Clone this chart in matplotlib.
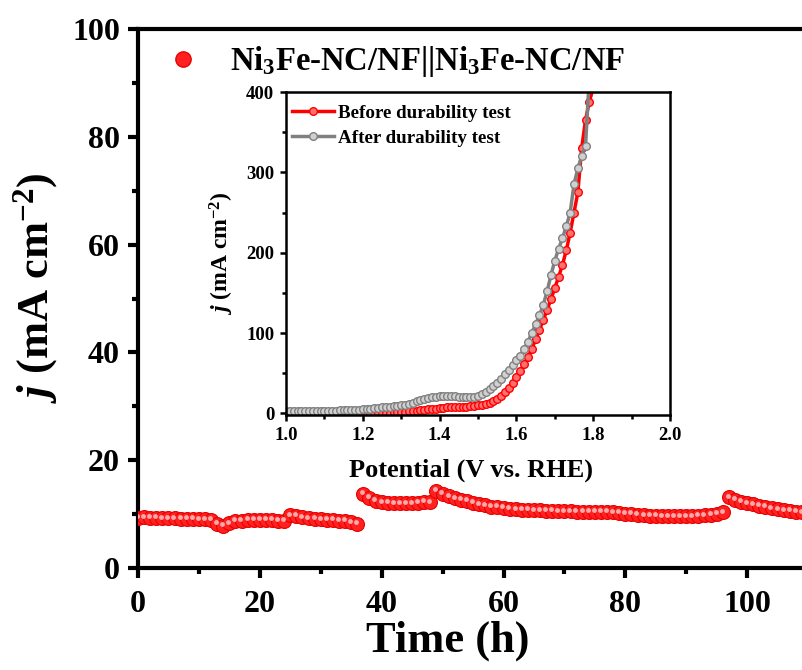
import matplotlib
matplotlib.use("Agg")
import matplotlib.pyplot as plt
from matplotlib.lines import Line2D
from matplotlib.ticker import MultipleLocator
from matplotlib.transforms import offset_copy

plt.rcParams["font.family"] = ["Liberation Serif", "DejaVu Serif"]
plt.rcParams["font.weight"] = "bold"
plt.rcParams["axes.labelweight"] = "bold"
plt.rcParams["mathtext.fontset"] = "custom"
plt.rcParams["mathtext.rm"] = "Liberation Serif:bold"
plt.rcParams["mathtext.it"] = "Liberation Serif:italic:bold"
plt.rcParams["mathtext.bf"] = "Liberation Serif:bold"

# chronoamperometry, one point per hour
time_h = [0, 1, 2, 3, 4, 5, 6, 7, 8, 9,
          10, 11, 12, 13, 14, 15, 16, 17, 18, 19,
          20, 21, 22, 23, 24, 25, 26, 27, 28, 29,
          30, 31, 32, 33, 34, 35, 36, 37, 38, 39,
          40, 41, 42, 43, 44, 45, 46, 47, 48, 49,
          50, 51, 52, 53, 54, 55, 56, 57, 58, 59,
          60, 61, 62, 63, 64, 65, 66, 67, 68, 69,
          70, 71, 72, 73, 74, 75, 76, 77, 78, 79,
          80, 81, 82, 83, 84, 85, 86, 87, 88, 89,
          90, 91, 92, 93, 94, 95, 96, 97, 98, 99,
          100, 101, 102, 103, 104, 105, 106, 107, 108, 109]
current = [9.3, 9.4, 9.3, 9.3, 9.2, 9.2, 9.2, 9.1, 9.1, 9.1,
           9.0, 9.0, 8.9, 8.2, 7.8, 8.3, 8.7, 8.8, 8.9, 8.9,
           8.9, 8.9, 8.9, 8.8, 8.8, 9.8, 9.7, 9.4, 9.2, 9.1,
           9.0, 8.9, 8.9, 8.8, 8.7, 8.5, 8.2, 13.8, 13.0, 12.5,
           12.2, 12.1, 12.0, 12.0, 12.0, 12.0, 12.1, 12.3, 12.2, 14.3,
           13.8, 13.3, 12.9, 12.6, 12.4, 12.1, 11.8, 11.6, 11.4, 11.3,
           11.2, 11.0, 10.9, 10.8, 10.8, 10.7, 10.7, 10.6, 10.6, 10.5,
           10.5, 10.5, 10.4, 10.4, 10.4, 10.4, 10.4, 10.4, 10.3, 10.2,
           10.1, 10.0, 9.9, 9.8, 9.7, 9.7, 9.6, 9.6, 9.6, 9.6,
           9.6, 9.6, 9.7, 9.8, 9.9, 10.1, 10.3, 13.1, 12.6, 12.3,
           12.0, 11.8, 11.5, 11.3, 11.1, 10.9, 10.7, 10.6, 10.4, 10.3]

# polarization curves (inset)
potential = [1.00, 1.01, 1.02, 1.03, 1.04, 1.05, 1.06, 1.07, 1.08, 1.09,
             1.10, 1.11, 1.12, 1.13, 1.14, 1.15, 1.16, 1.17, 1.18, 1.19,
             1.20, 1.21, 1.22, 1.23, 1.24, 1.25, 1.26, 1.27, 1.28, 1.29,
             1.30, 1.31, 1.32, 1.33, 1.34, 1.35, 1.36, 1.37, 1.38, 1.39,
             1.40, 1.41, 1.42, 1.43, 1.44, 1.45, 1.46, 1.47, 1.48, 1.49,
             1.50, 1.51, 1.52, 1.53, 1.54, 1.55, 1.56, 1.57, 1.58, 1.59,
             1.60, 1.61, 1.62, 1.63, 1.64, 1.65, 1.66, 1.67, 1.68, 1.69,
             1.70, 1.71, 1.72, 1.73, 1.74, 1.75, 1.76, 1.77, 1.78, 1.79,
             1.80]
before = [1.0, 1.0, 1.0, 1.0, 1.0, 1.0, 1.0, 1.0, 1.0, 1.0,
          1.0, 1.0, 1.0, 1.0, 1.0, 1.0, 1.0, 1.0, 1.0, 1.0,
          1.0, 1.0, 1.0, 1.0, 1.0, 1.0, 1.0, 1.0, 1.2, 1.3,
          1.5, 2.0, 2.5, 3.0, 3.5, 4.0, 4.5, 5.0, 5.5, 6.0,
          6.5, 7.0, 7.5, 7.5, 8.0, 8.0, 8.5, 8.5, 9.0, 9.5,
          10, 11, 12, 13.5, 15, 18, 22, 27, 32, 38,
          45, 53, 61, 70, 80, 92, 104, 116, 129, 142,
          156, 170, 185, 203, 225, 250, 275, 330, 365, 388,
          405]
after = [3.0, 3.0, 3.0, 3.0, 3.0, 3.0, 3.0, 3.0, 3.0, 3.0,
         3.0, 3.5, 3.5, 3.5, 4.0, 4.0, 4.0, 4.5, 4.5, 4.5,
         5.0, 5.5, 6.0, 6.5, 7.0, 7.5, 8.0, 8.5, 9.0, 9.5,
         10, 11, 12, 13.5, 15, 16.5, 18, 19, 20, 21,
         21.5, 22, 22, 22, 21.5, 21, 21, 20.5, 20.5, 21,
         22, 24, 27, 30, 34, 38, 43, 49, 54, 60,
         66, 72, 80, 89, 100, 111, 122, 135, 152, 172,
         190, 205, 218, 233, 250, 285, 305, 320, 333, 420,
         440]

fig = plt.figure(figsize=(8.02, 6.70), dpi=100)
ax = fig.add_axes([138 / 802, 102 / 670, 1 - 138 / 802, 539 / 670])

ax.plot(time_h, current, "o", ms=10, mfc="#ff2020", mec="#e80000", mew=0.8, zorder=3)
hl = offset_copy(ax.transData, fig=fig, x=-0.8, y=1.2, units="points")
ax.plot(time_h, current, "o", ms=3.5, color="#ffaaaa", mec="none", transform=hl, zorder=4)

ax.set_xlim(0, 109)
ax.set_ylim(0, 100)
ax.xaxis.set_major_locator(MultipleLocator(20))
ax.xaxis.set_minor_locator(MultipleLocator(10))
ax.yaxis.set_major_locator(MultipleLocator(20))
ax.yaxis.set_minor_locator(MultipleLocator(10))
ax.spines["right"].set_visible(False)
for s in ["left", "bottom", "top"]:
    ax.spines[s].set_linewidth(3)
ax.tick_params(which="major", direction="out", length=7, width=3, labelsize=23, top=False, right=False)
ax.tick_params(axis="x", which="major", pad=9)
ax.tick_params(axis="y", which="major", pad=6)
ax.tick_params(which="minor", direction="out", length=4, width=3, top=False, right=False)

ax.set_xlabel("Time (h)", fontsize=32)
ax.xaxis.set_label_coords((448 - 138) / 664, -0.098)
ax.set_ylabel(r"$j$ (mA cm$^{-2}$)", fontsize=32)
ax.yaxis.set_label_coords(-0.117, 0.52)

h = Line2D([], [], ls="none", marker="o", ms=11, mfc="#ff2020", mec="#e80000")
ax.legend([h], [r"Ni$_3$Fe-NC/NF||Ni$_3$Fe-NC/NF"], loc="upper left",
          bbox_to_anchor=(0.0, 0.99), frameon=False, fontsize=23.5,
          handlelength=2.16, handletextpad=0.36, borderaxespad=0.0, borderpad=0.3)

# inset
ins = fig.add_axes([286 / 802, 255 / 670, 384 / 802, 323 / 670])
ins.plot(potential, before, "-o", color="red", lw=2.5, ms=5.5, mfc="#ff7070",
         mec="red", mew=1, label="Before durability test")
ins.plot(potential, after, "-o", color="#808080", lw=2.5, ms=5.5, mfc="#d0d0d0",
         mec="#808080", mew=1, label="After durability test")
ins.set_xlim(1.0, 2.0)
ins.set_ylim(-2, 400)
ins.xaxis.set_major_locator(MultipleLocator(0.2))
ins.xaxis.set_minor_locator(MultipleLocator(0.1))
ins.yaxis.set_major_locator(MultipleLocator(100))
ins.yaxis.set_minor_locator(MultipleLocator(50))
ins.xaxis.set_major_formatter(plt.FormatStrFormatter("%.1f"))
for s in ins.spines.values():
    s.set_linewidth(1.8)
ins.tick_params(which="major", direction="out", length=4.5, width=1.8, labelsize=13.5, pad=4)
ins.tick_params(which="minor", direction="out", length=3, width=1.8)
ins.set_xlabel("Potential (V vs. RHE)", fontsize=19)
ins.xaxis.set_label_coords(0.482, -0.135)
ins.set_ylabel(r"$j$ (mA cm$^{-2}$)", fontsize=17)
ins.yaxis.set_label_coords(-0.13, 0.5)
ins.legend(loc="upper left", bbox_to_anchor=(0.0, 0.978), frameon=False, fontsize=13.7,
           handlelength=2.2, handletextpad=0.25, borderaxespad=0.0, borderpad=0.3,
           labelspacing=0.4)

fig.savefig("out.png", dpi=100)
